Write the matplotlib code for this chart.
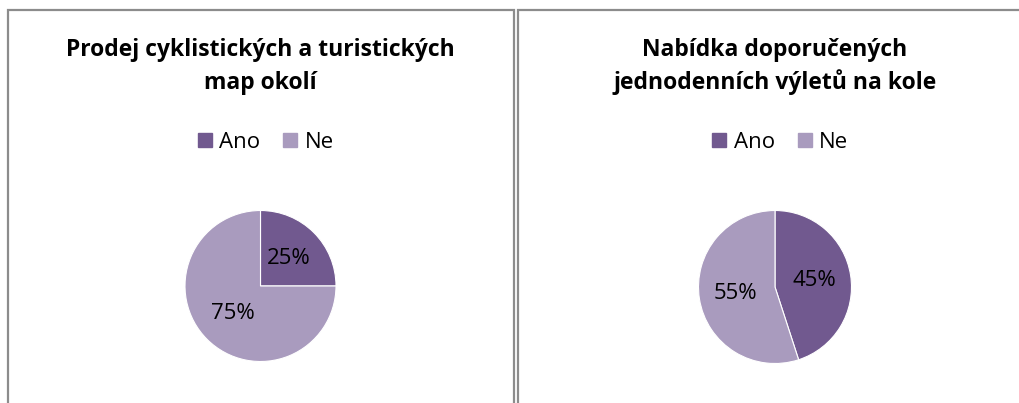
import matplotlib
matplotlib.use("Agg")
import matplotlib.pyplot as plt
from matplotlib.patches import Rectangle
from matplotlib.lines import Line2D

W, H = 1019, 403
DPI = 100

title_lines_left = ["Prodej cyklistických a turistických", "map okolí"]
title_lines_right = ["Nabídka doporučených", "jednodenních výletů na kole"]
categories = ["Ano", "Ne"]
values_left = [25, 75]
values_right = [45, 55]
colors = ["#71598F", "#A99BBE"]

plt.rcParams['font.family'] = ['Open Sans', 'DejaVu Sans']

fig = plt.figure(figsize=(W / DPI, H / DPI), dpi=DPI)
fig.patch.set_facecolor("white")

def fx(px):
    return px / W

def fy(py):
    return 1 - py / H

# panel borders
border_col = "#8C8C8C"
for (x0, x1) in [(7.5, 514), (518, 1030)]:
    fig.add_artist(Rectangle((fx(x0), fy(420)), fx(x1 - x0), (420 - 10) / H,
                             transform=fig.transFigure, fill=False,
                             edgecolor=border_col, linewidth=1.6))

panels = [
    dict(cx=260.5, cy=286, r=75.5, vals=values_left, title=title_lines_left, tx=260.5),
    dict(cx=775, cy=287, r=76.5, vals=values_right, title=title_lines_right, tx=775),
]

for p in panels:
    r = p["r"]
    ax = fig.add_axes([fx(p["cx"] - r), fy(p["cy"] + r), fx(2 * r), 2 * r / H])
    wedges, texts, autotexts = ax.pie(
        p["vals"], colors=colors, startangle=90, counterclock=False,
        autopct=lambda v: f"{v:.0f}%", pctdistance=0.52,
        wedgeprops=dict(linewidth=0.8, edgecolor="white"),
        textprops=dict(fontsize=16, color="black"))
    ax.set_xlim(-1, 1)
    ax.set_ylim(-1, 1)
    ax.set_aspect("auto")
    ax.axis("off")

    for line, base in zip(p["title"], [56, 89]):
        fig.text(fx(p["tx"]), fy(base), line, ha="center", va="baseline",
                 fontsize=16.5, fontweight="bold")

    # legend
    handles = [Line2D([], [], marker="s", linestyle="none", markersize=10,
                      markerfacecolor=c, markeredgecolor=c) for c in colors]
    fig.legend(handles, categories, loc="center", ncol=2,
               bbox_to_anchor=(fx(p["tx"] + 5), fy(142)), frameon=False,
               fontsize=16, handlelength=0.7, handletextpad=0.3,
               columnspacing=1.0)

fig.savefig("out.png", dpi=DPI, facecolor="white")
